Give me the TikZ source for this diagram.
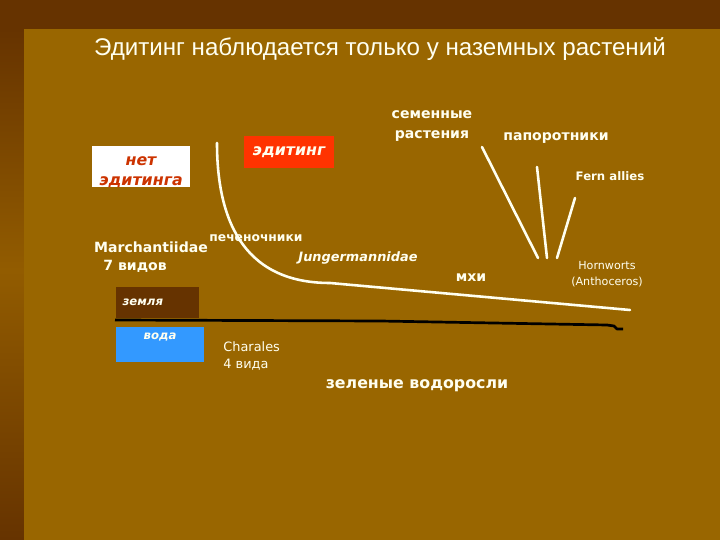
\documentclass[tikz,border=0pt]{standalone}
\usepackage{fontspec}
\setmainfont{DejaVu Sans}
\newfontfamily\titlefont{Liberation Sans}
\usepackage{tikz}
\usetikzlibrary{calc,positioning}
\definecolor{slidebg}{HTML}{996600}
\definecolor{darkbrown}{HTML}{663300}
\definecolor{midbrown}{HTML}{925C00}
\definecolor{cream}{HTML}{FFFFF0}
\definecolor{editred}{HTML}{FF3300}
\definecolor{noedit}{HTML}{CC3300}
\definecolor{water}{HTML}{3399FF}
\tikzset{
    x=0.03cm,y=-0.03cm,
    lbl/.style ={text=cream, inner sep=1pt, align=center, font=\bfseries\fontsize{12}{17}\selectfont},
    small/.style ={text=cream, inner sep=1pt, align=center, font=\fontsize{9.5}{13.5}\selectfont},
    tag/.style = {inner sep=0pt, align=center, font=\bfseries\itshape\fontsize{13.5}{17}\selectfont},
    branch/.style={draw=cream, line width=2.2pt, line cap=round}
}
\begin{document}
\begin{tikzpicture}
	% slide background
	\fill[darkbrown] (0,0) rectangle (720,540);
	\shade[top color=darkbrown, bottom color=midbrown] (0,29) rectangle (24,270);
	\shade[top color=midbrown, bottom color=darkbrown] (0,270) rectangle (24,540);
	\fill[slidebg] (24,29) rectangle (720,540);
	\useasboundingbox (0,0) rectangle (720,540);

	\node (0) at (380,49) {\titlefont\fontsize{20.6}{24}\selectfont\color{cream}Эдитинг наблюдается только у наземных растений};

	\node (1) [fill=white, minimum width=2.94cm, minimum height=1.23cm, inner sep=0pt] at (141,166.5) {};
	\node (1a) [tag, text=noedit] at (141,172) {нет\\эдитинга};
	\node (2) [tag, fill=editred, text=cream, minimum width=2.7cm, minimum height=0.96cm] at (289,152) {эдитинг};

	\node (3) [lbl] at (432,126) {семенные\\растения};
	\node (4) [lbl] at (556,138) {папоротники};
	\node (5) [lbl, font=\bfseries\fontsize{10}{12}\selectfont] at (610,176) {Fern allies};
	\node (6) [lbl, font=\bfseries\fontsize{10.5}{12}\selectfont] at (256,238) {печеночники};
	\node (7) [lbl] at (151,247) {Marchantiidae};
	\node (8) [lbl] at (135,266) {7 видов};
	\node (9) [lbl, font=\bfseries\itshape\fontsize{11}{12}\selectfont] at (358,258) {Jungermannidae};
	\node (10) [lbl] at (471,278) {мхи};
	\node (11) [small] at (607,274) {Hornworts\\(Anthoceros)};

	\node (12) [tag, fill=darkbrown, text=cream, font=\bfseries\itshape\fontsize{10}{12}\selectfont, minimum width=2.49cm, minimum height=0.93cm, text width=2.09cm, inner xsep=0.2cm, align=left] at (157.5,302.5) {земля};
	\node (13) [fill=water, minimum width=2.64cm, minimum height=1.05cm, inner sep=0pt] at (160,344.5) {};
	\node (14) [tag, text=cream, font=\bfseries\itshape\fontsize{10}{12}\selectfont, below=5pt of 13.north] {вода};

	\node (15) [small, font=\fontsize{11}{14.5}\selectfont, align=left, anchor=west] at (222,356) {Charales\\4 вида};
	\node (16) [lbl, font=\bfseries\fontsize{13.5}{15}\selectfont] at (417,386) {зеленые водоросли};

	% branches
	\coordinate (a) at (217,143);
	\coordinate (b) at (330,283);
	\coordinate (c) at (630,310);
	\draw[branch] (a) .. controls (217,215) and (240,283) .. (b) -- (c);
	\coordinate (d1) at (482,147);
	\coordinate (e1) at (538,258);
	\coordinate (d2) at (537,167);
	\coordinate (e2) at (547,258);
	\coordinate (d3) at (575,198);
	\coordinate (e3) at (557,258);
	\draw[branch] (d1) -- (e1);
	\draw[branch] (d2) -- (e2);
	\draw[branch] (d3) -- (e3);

	% shore line
	\coordinate (s) at (115,320);
	\coordinate (t) at (623,329);
	\draw[black, line width=2.3pt, line join=round] (s) -- (380,321) -- (607,325) -- (614,326) -- (617,329) -- (t);
\end{tikzpicture}
\end{document}
